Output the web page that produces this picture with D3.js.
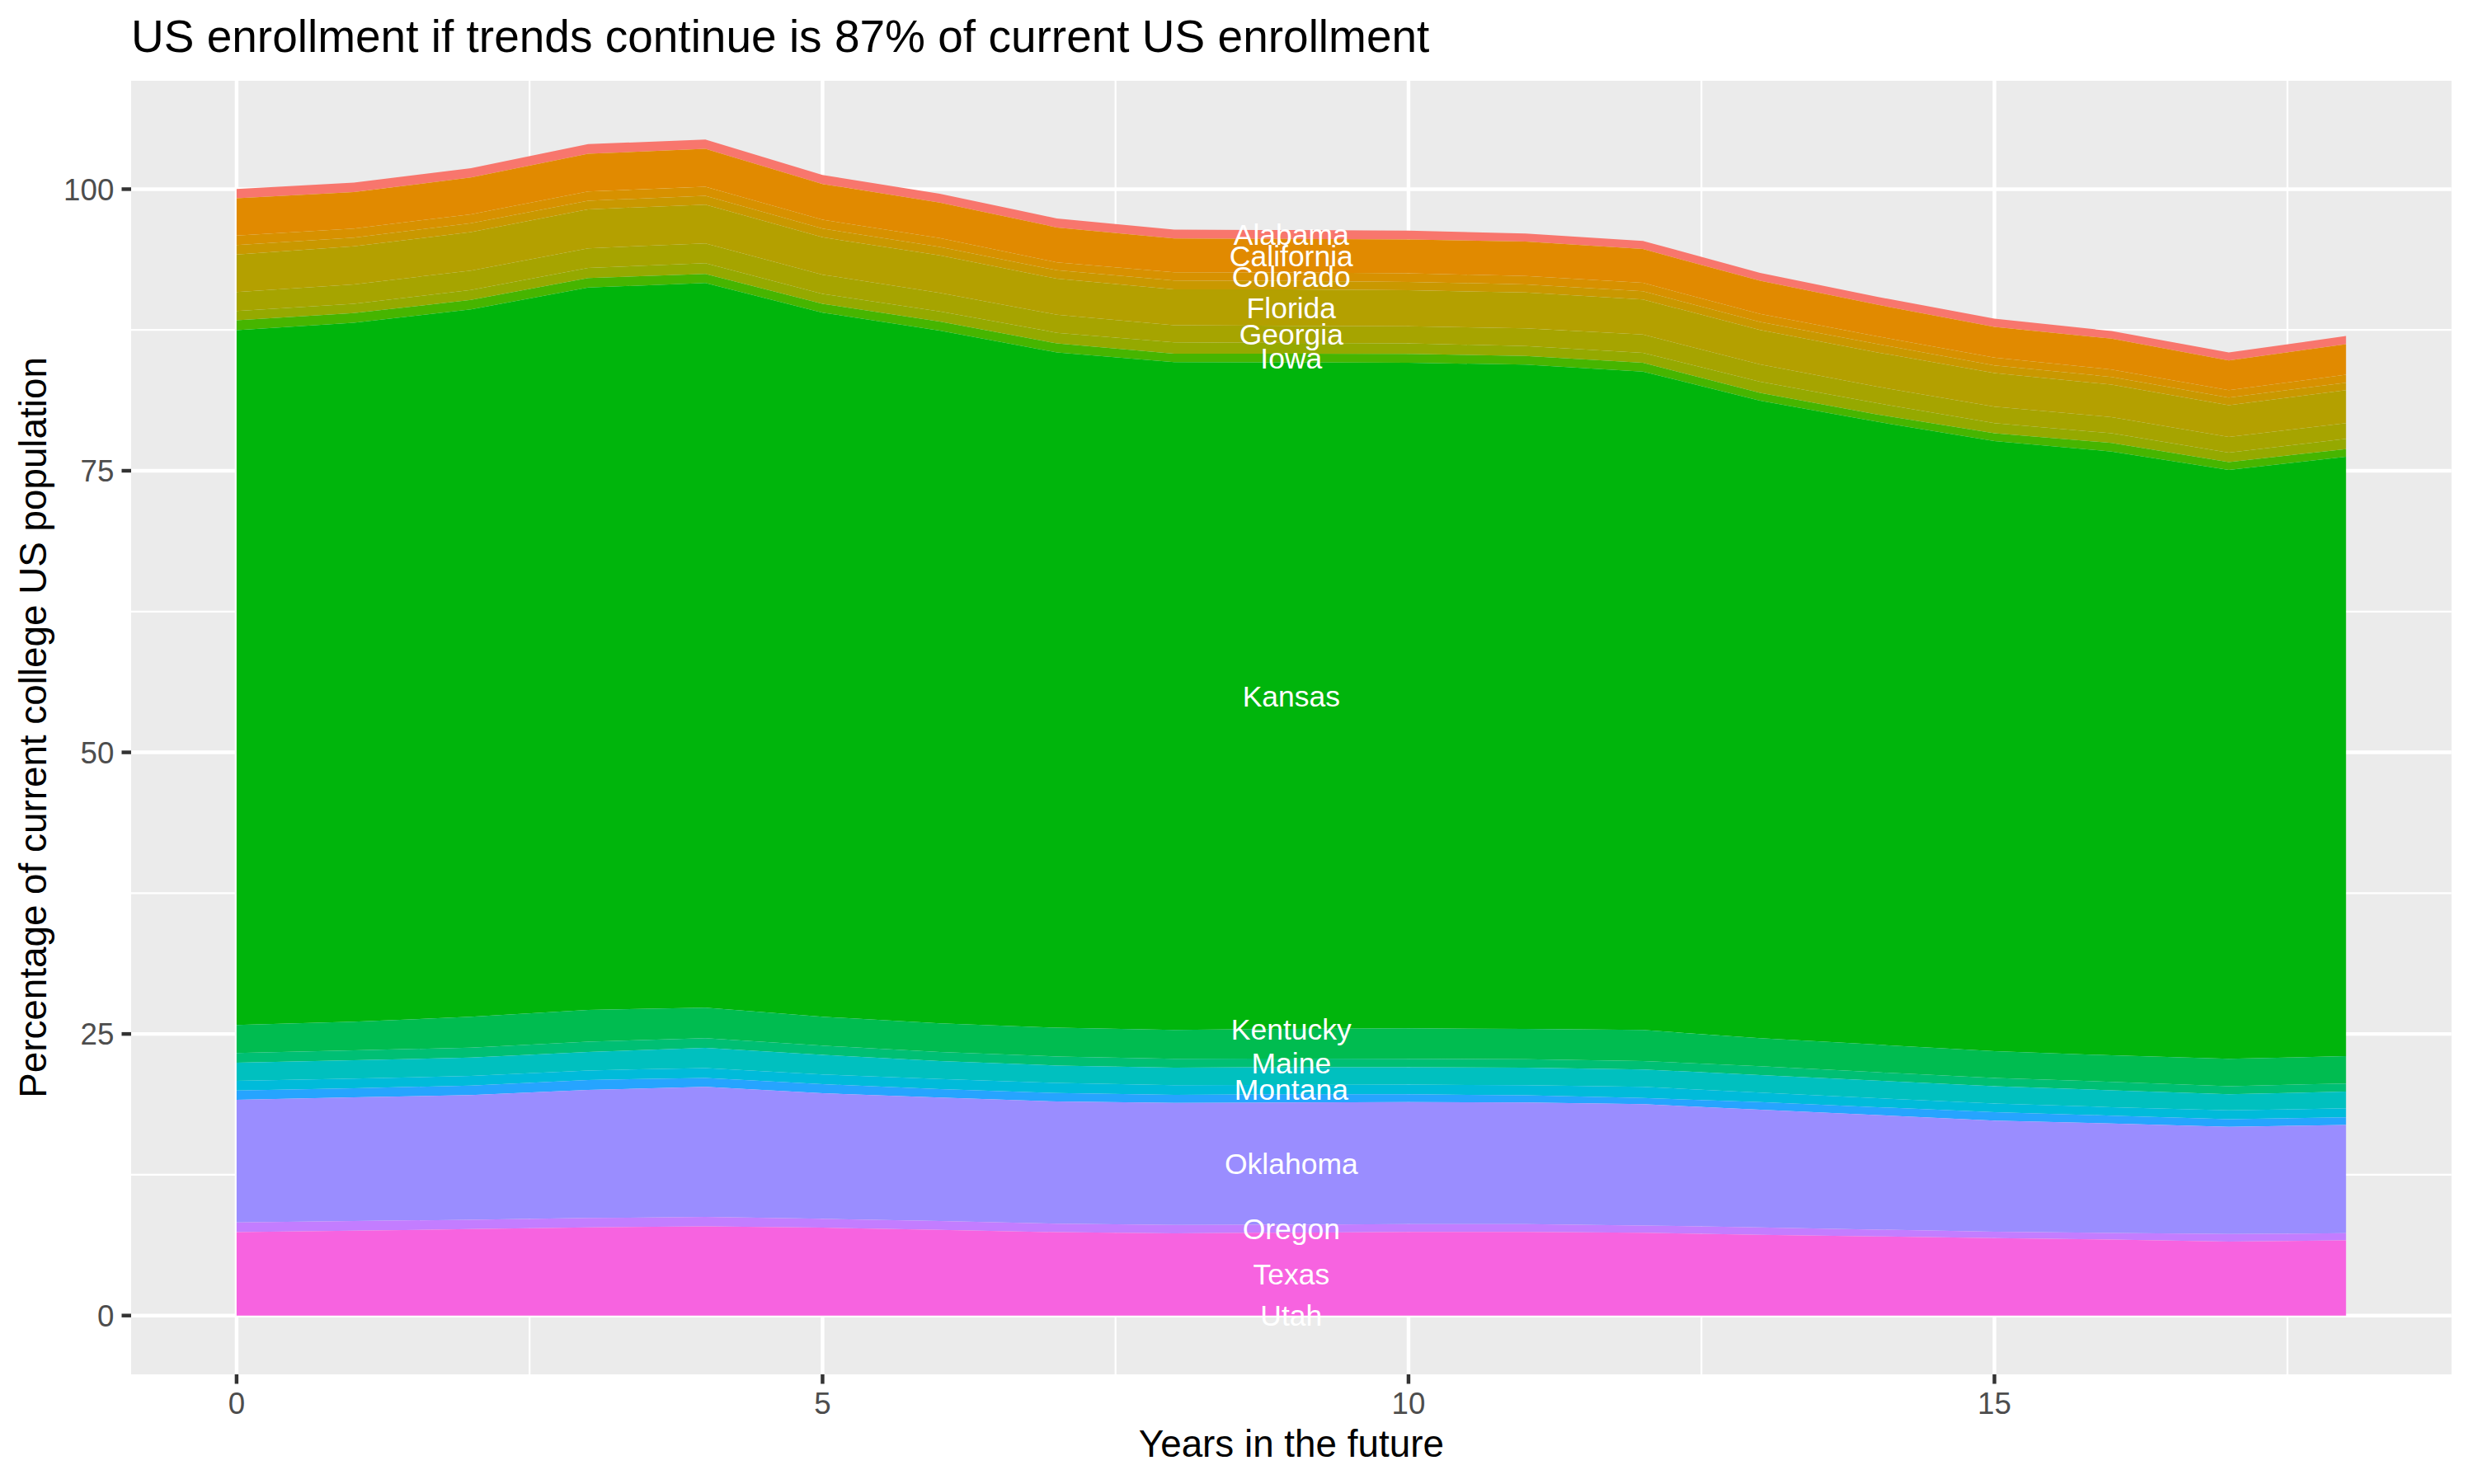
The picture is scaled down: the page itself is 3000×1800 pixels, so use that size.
<!DOCTYPE html>
<html>
<head>
<meta charset="utf-8">
<script src="https://cdn.jsdelivr.net/npm/d3@7"></script>
<style>
  html, body { margin: 0; padding: 0; background: #ffffff; }
  svg { display: block; }
  text { font-family: "Liberation Sans", Arial, Helvetica, sans-serif; }
</style>
</head>
<body>
<svg id="chart" width="3000" height="1800"></svg>
<script>
// ---------------- data ----------------
const years = [0, 1, 2, 3, 4, 5, 6, 7, 8, 9, 10, 11, 12, 13, 14, 15, 16, 17, 18];

const states = ["Alabama", "California", "Colorado", "Connecticut", "Florida", "Georgia", "Idaho", "Iowa",
  "Kansas", "Kentucky", "Louisiana", "Maine", "Missouri", "Montana", "New York", "Oklahoma", "Oregon", "Texas", "Utah"];

const alabama     = [0.83, 0.85, 0.83, 0.86, 0.82, 0.80, 0.80, 0.80, 0.78, 0.79, 0.78, 0.73, 0.73, 0.70, 0.70, 0.73, 0.68, 0.71, 0.73];
const california  = [3.32, 3.23, 3.27, 3.34, 3.37, 3.17, 3.15, 3.10, 3.00, 2.98, 3.00, 3.05, 3.00, 2.95, 2.81, 2.73, 2.73, 2.63, 2.71];
const colorado    = [0.83, 0.80, 0.80, 0.83, 0.80, 0.79, 0.78, 0.70, 0.73, 0.75, 0.76, 0.74, 0.74, 0.70, 0.68, 0.69, 0.66, 0.66, 0.70];
const connecticut = [0.85, 0.78, 0.78, 0.76, 0.78, 0.77, 0.75, 0.75, 0.78, 0.75, 0.75, 0.73, 0.73, 0.73, 0.74, 0.68, 0.69, 0.69, 0.66];
const florida     = [3.32, 3.37, 3.42, 3.46, 3.44, 3.32, 3.32, 3.20, 3.20, 3.23, 3.20, 3.17, 3.12, 3.04, 3.05, 2.98, 2.88, 2.81, 2.93];
const georgia     = [1.68, 1.73, 1.73, 1.74, 1.76, 1.71, 1.65, 1.60, 1.51, 1.52, 1.51, 1.58, 1.63, 1.54, 1.46, 1.46, 1.43, 1.39, 1.39];
const idaho       = [0.83, 0.83, 0.88, 0.90, 0.95, 0.88, 0.90, 0.95, 1.00, 0.95, 0.94, 0.87, 0.87, 1.00, 1.00, 0.90, 0.86, 0.85, 0.91];
const iowa        = [0.88, 0.85, 0.83, 0.85, 0.81, 0.78, 0.80, 0.80, 0.76, 0.78, 0.78, 0.78, 0.78, 0.68, 0.65, 0.69, 0.76, 0.69, 0.69];
const kansas      = [61.69, 62.06, 62.81, 64.13, 64.34, 62.52, 61.50, 59.95, 59.29, 59.17, 59.09, 58.97, 58.46, 56.61, 55.30, 54.17, 53.61, 52.28, 53.21];
const kentucky    = [0, 0, 0, 0, 0, 0, 0, 0, 0, 0, 0, 0, 0, 0, 0, 0, 0, 0, 0];
const louisiana   = [2.49, 2.54, 2.73, 2.81, 2.71, 2.56, 2.55, 2.55, 2.55, 2.64, 2.70, 2.70, 2.75, 2.49, 2.45, 2.37, 2.35, 2.42, 2.43];
const maine       = [0.85, 0.88, 0.88, 0.92, 0.86, 0.81, 0.80, 0.80, 0.80, 0.76, 0.75, 0.75, 0.75, 0.78, 0.75, 0.73, 0.75, 0.73, 0.72];
const missouri    = [1.62, 1.63, 1.64, 1.64, 1.78, 1.75, 1.60, 1.55, 1.55, 1.58, 1.55, 1.55, 1.55, 1.55, 1.55, 1.54, 1.50, 1.42, 1.48];
const montana     = [0.85, 0.85, 0.85, 0.85, 0.88, 0.86, 0.90, 0.90, 0.85, 0.83, 0.85, 0.90, 0.98, 0.85, 0.80, 0.78, 0.75, 0.78, 0.81];
const newYork     = [0.83, 0.81, 0.85, 0.88, 0.80, 0.80, 0.75, 0.75, 0.73, 0.73, 0.70, 0.63, 0.56, 0.68, 0.70, 0.75, 0.70, 0.68, 0.66];
const oklahoma    = [10.88, 10.98, 11.06, 11.37, 11.54, 11.15, 10.95, 10.85, 10.82, 10.84, 10.83, 10.80, 10.76, 10.44, 10.17, 9.86, 9.71, 9.52, 9.62];
const oregon      = [0.86, 0.86, 0.83, 0.84, 0.84, 0.79, 0.80, 0.75, 0.75, 0.71, 0.70, 0.70, 0.65, 0.66, 0.60, 0.56, 0.59, 0.68, 0.63];
const texas       = [7.41, 7.53, 7.68, 7.82, 7.92, 7.80, 7.60, 7.40, 7.30, 7.36, 7.42, 7.42, 7.35, 7.17, 7.03, 6.88, 6.75, 6.56, 6.68];
const utah        = [0, 0, 0, 0, 0, 0, 0, 0, 0, 0, 0, 0, 0, 0, 0, 0, 0, 0, 0];

const seriesValues = [alabama, california, colorado, connecticut, florida, georgia, idaho, iowa,
  kansas, kentucky, louisiana, maine, missouri, montana, newYork, oklahoma, oregon, texas, utah];

const stateColors = ["#F8766D", "#E18A00", "#D79100", "#C99800", "#B4A000", "#A6A400", "#95A900", "#46B500",
  "#00B50C", "#00BA38", "#00BC50", "#00BF74", "#00C0BF", "#00BBDA", "#26A4FF", "#9A8DFF", "#C37DFF", "#F763E0", "#FF65AE"];

const labelNames = ["Alabama", "California", "Colorado", "Florida", "Georgia", "Iowa", "Kansas", "Kentucky",
  "Maine", "Montana", "Oklahoma", "Oregon", "Texas", "Utah"];
const labelYear = 9;

const xTicks = [0, 5, 10, 15];
const yTicks = [0, 25, 50, 75, 100];

const titleText = "US enrollment if trends continue is 87% of current US enrollment";
const xTitle = "Years in the future";
const yTitle = "Percentage of current college US population";

// ---------------- layout ----------------
const W = 3000, H = 1800;
const panel = { left: 159, right: 2972.7, top: 98, bottom: 1667 };
const majorW = 4.45, minorW = 2.2, tickLen = 11.5;

const rows = years.map((yr, i) => {
  const r = { year: yr };
  states.forEach((s, j) => { r[s] = seriesValues[j][i]; });
  return r;
});

const stack = d3.stack().keys(states).order(d3.stackOrderReverse);
const layers = stack(rows);

const xExt = d3.extent(years);
const xPad = (xExt[1] - xExt[0]) * 0.05;
const yMax = d3.max(layers, L => d3.max(L, d => d[1]));
const yPad = yMax * 0.05;

const x = d3.scaleLinear().domain([xExt[0] - xPad, xExt[1] + xPad]).range([panel.left, panel.right]);
const y = d3.scaleLinear().domain([0 - yPad, yMax + yPad]).range([panel.bottom, panel.top]);

const svg = d3.select("#chart");
svg.append("rect").attr("width", W).attr("height", H).attr("fill", "#ffffff");

// panel
svg.append("rect")
  .attr("x", panel.left).attr("y", panel.top)
  .attr("width", panel.right - panel.left).attr("height", panel.bottom - panel.top)
  .attr("fill", "#EBEBEB");

const mids = arr => arr.slice(0, -1).map((v, i) => (v + arr[i + 1]) / 2);
const xMinor = mids(xTicks).concat([xTicks[xTicks.length - 1] + (xTicks[1] - xTicks[0]) / 2]);
const yMinor = mids(yTicks);

const grid = svg.append("g");
grid.selectAll(".ymin").data(yMinor).enter().append("line")
  .attr("x1", panel.left).attr("x2", panel.right)
  .attr("y1", d => y(d)).attr("y2", d => y(d))
  .attr("stroke", "#fff").attr("stroke-width", minorW);
grid.selectAll(".xmin").data(xMinor.filter(v => x(v) < panel.right)).enter().append("line")
  .attr("y1", panel.top).attr("y2", panel.bottom)
  .attr("x1", d => x(d)).attr("x2", d => x(d))
  .attr("stroke", "#fff").attr("stroke-width", minorW);
grid.selectAll(".ymaj").data(yTicks).enter().append("line")
  .attr("x1", panel.left).attr("x2", panel.right)
  .attr("y1", d => y(d)).attr("y2", d => y(d))
  .attr("stroke", "#fff").attr("stroke-width", majorW);
grid.selectAll(".xmaj").data(xTicks).enter().append("line")
  .attr("y1", panel.top).attr("y2", panel.bottom)
  .attr("x1", d => x(d)).attr("x2", d => x(d))
  .attr("stroke", "#fff").attr("stroke-width", majorW);

// areas
const area = d3.area()
  .x(d => x(d.data.year))
  .y0(d => y(d[0]))
  .y1(d => y(d[1]));

svg.append("g").selectAll("path").data(layers).enter().append("path")
  .attr("d", area)
  .attr("fill", L => stateColors[states.indexOf(L.key)]);

// state labels
const li = years.indexOf(labelYear);
svg.append("g").selectAll("text")
  .data(layers.filter(L => labelNames.includes(L.key)))
  .enter().append("text")
  .attr("x", x(labelYear))
  .attr("y", L => y((L[li][0] + L[li][1]) / 2))
  .attr("dy", "0.36em")
  .attr("text-anchor", "middle")
  .attr("fill", "#ffffff")
  .style("font-size", "35.5px")
  .text(L => L.key);

// axes ticks
const axisG = svg.append("g");
axisG.selectAll(".yt").data(yTicks).enter().append("line")
  .attr("x1", panel.left - tickLen).attr("x2", panel.left)
  .attr("y1", d => y(d)).attr("y2", d => y(d))
  .attr("stroke", "#333333").attr("stroke-width", majorW);
axisG.selectAll(".xt").data(xTicks).enter().append("line")
  .attr("y1", panel.bottom).attr("y2", panel.bottom + tickLen)
  .attr("x1", d => x(d)).attr("x2", d => x(d))
  .attr("stroke", "#333333").attr("stroke-width", majorW);

axisG.selectAll(".yl").data(yTicks).enter().append("text")
  .attr("x", panel.left - tickLen - 9.2)
  .attr("y", d => y(d))
  .attr("dy", "0.36em")
  .attr("text-anchor", "end")
  .attr("fill", "#4D4D4D")
  .style("font-size", "36.7px")
  .text(d => d);
axisG.selectAll(".xl").data(xTicks).enter().append("text")
  .attr("x", d => x(d))
  .attr("y", 1715)
  .attr("text-anchor", "middle")
  .attr("fill", "#4D4D4D")
  .style("font-size", "36.7px")
  .text(d => d);

// titles
svg.append("text")
  .attr("x", (panel.left + panel.right) / 2).attr("y", 1766.5)
  .attr("text-anchor", "middle").attr("fill", "#000")
  .style("font-size", "45.8px").text(xTitle);

svg.append("text")
  .attr("transform", `translate(56,${(panel.top + panel.bottom) / 2}) rotate(-90)`)
  .attr("text-anchor", "middle").attr("fill", "#000")
  .style("font-size", "45.8px").text(yTitle);

svg.append("text")
  .attr("x", panel.left).attr("y", 63.3)
  .attr("fill", "#000")
  .style("font-size", "55px").text(titleText);
</script>
</body>
</html>
